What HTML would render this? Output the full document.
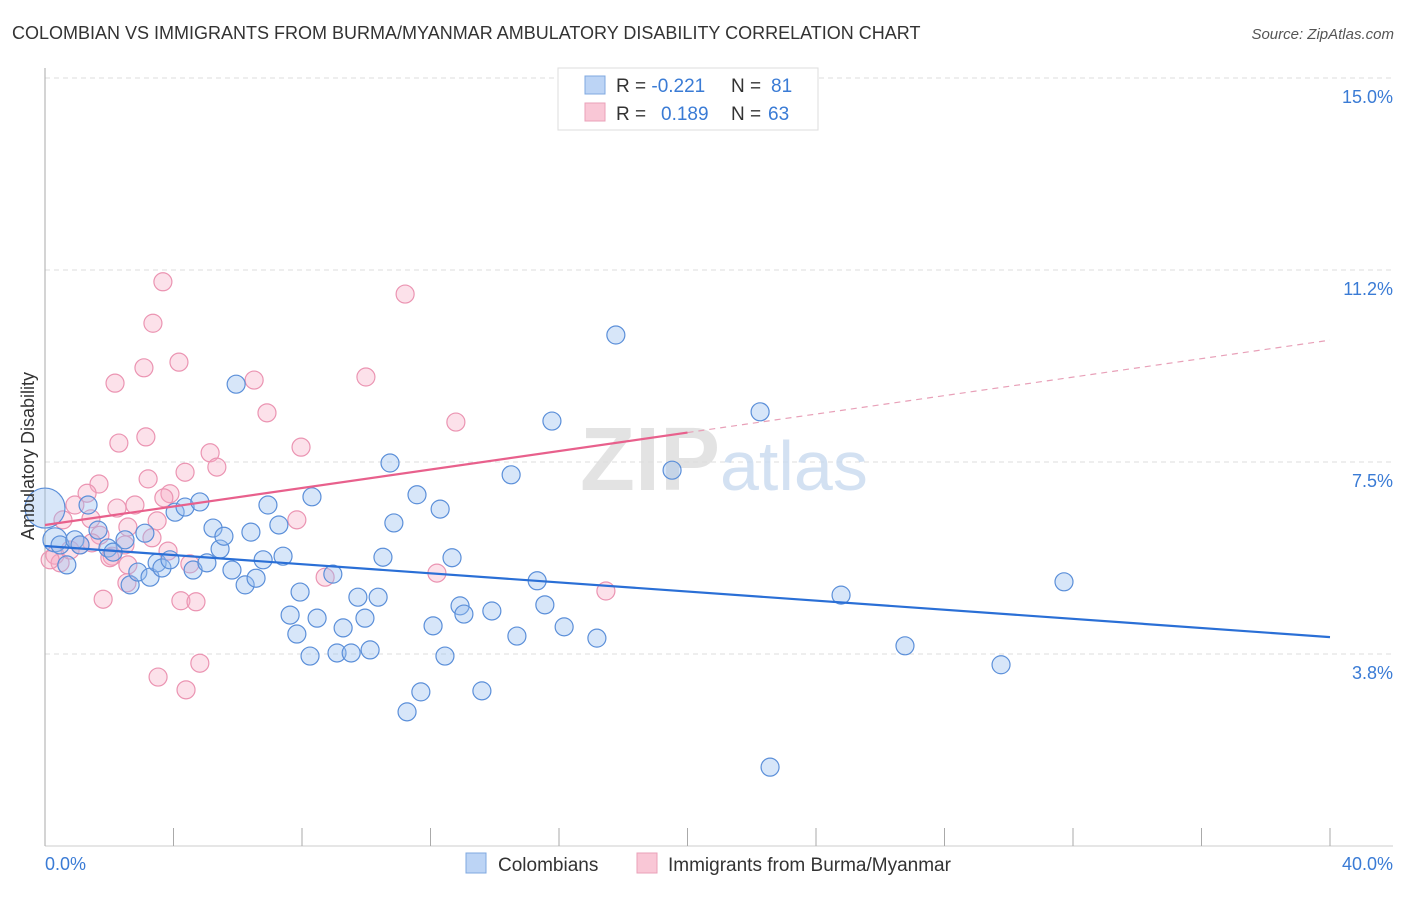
<!DOCTYPE html>
<html><head><meta charset="utf-8"><style>
body{margin:0;background:#fff;font-family:"Liberation Sans",sans-serif;}
svg text{font-family:"Liberation Sans",sans-serif;}
</style></head><body>
<svg width="1406" height="892" xmlns="http://www.w3.org/2000/svg">
<text x="12" y="39" font-size="18" fill="#333">COLOMBIAN VS IMMIGRANTS FROM BURMA/MYANMAR AMBULATORY DISABILITY CORRELATION CHART</text>
<text x="1394" y="39" font-size="15" fill="#555" text-anchor="end" font-style="italic">Source: ZipAtlas.com</text>
<g id="grid"></g>
<text x="720" y="490" font-size="90" fill="#ddd" text-anchor="end" font-family="Liberation Serif" font-weight="bold" opacity="0.8">ZIP</text>
<text x="720" y="490" font-size="70" fill="#c9daf0" opacity="0.8">atlas</text>
<g id="pts"></g>
<g id="lines"></g>
<text transform="translate(34,456) rotate(-90)" font-size="18" fill="#333" text-anchor="middle">Ambulatory Disability</text>
<text x="45" y="870" font-size="18" fill="#3a7bd5">0.0%</text>
<text x="1393" y="870" font-size="18" fill="#3a7bd5" text-anchor="end">40.0%</text>
<g>
<rect x="558" y="68" width="260" height="62" fill="#fff" stroke="#ddd"/>
<rect x="585" y="76" width="20" height="18" fill="#bcd4f5" stroke="#7fa8e0"/>
<rect x="585" y="103" width="20" height="18" fill="#f9c7d6" stroke="#eaa0b8"/>
<text x="616" y="92" font-size="19" fill="#333">R = <tspan fill="#3a7bd5">-0.221</tspan><tspan x="731">N = </tspan><tspan x="771" fill="#3a7bd5">81</tspan></text>
<text x="616" y="120" font-size="19" fill="#333">R = <tspan x="661" fill="#3a7bd5">0.189</tspan><tspan x="731">N = </tspan><tspan x="768" fill="#3a7bd5">63</tspan></text>
</g>
<g>
<rect x="466" y="853" width="20" height="20" fill="#bcd4f5" stroke="#7fa8e0"/>
<text x="498" y="871" font-size="19" fill="#333">Colombians</text>
<rect x="637" y="853" width="20" height="20" fill="#f9c7d6" stroke="#eaa0b8"/>
<text x="668" y="871" font-size="19" fill="#333">Immigrants from Burma/Myanmar</text>
</g>
</svg>
<script>
const yTicks=[15.0,11.25,7.5,3.75];
const yTickLabels=["15.0%","11.2%","7.5%","3.8%"];
const xTicks=[0,4,8,12,16,20,24,28,32,36,40];
const blueX=[0.0,0.68,0.31,1.34,1.65,1.96,2.12,2.49,2.65,2.89,3.27,3.11,3.49,3.64,3.89,4.05,4.36,4.61,4.82,5.04,5.23,5.45,5.57,5.82,5.95,6.23,6.41,6.57,6.79,6.94,7.28,7.41,7.63,7.84,7.94,8.25,8.31,8.47,8.96,9.09,9.28,9.53,9.74,9.96,10.12,10.37,10.52,10.74,10.86,11.27,11.58,11.70,12.08,12.30,12.45,12.67,12.92,13.04,13.60,13.91,14.51,14.69,15.32,15.56,15.78,16.16,17.18,17.77,19.52,22.26,22.57,24.78,26.77,29.76,31.72,0.47,0.93,1.09];
const blueY=[6.60,5.49,5.98,6.66,6.17,5.82,5.74,5.98,5.10,5.35,5.25,6.11,5.53,5.43,5.59,6.52,6.62,5.39,6.72,5.53,6.21,5.80,6.05,5.39,9.02,5.10,6.13,5.23,5.59,6.66,6.27,5.66,4.51,4.14,4.96,3.71,6.82,4.45,5.31,3.77,4.26,3.77,4.86,4.45,3.83,4.86,5.64,7.48,6.31,2.62,6.86,3.01,4.30,6.58,3.71,5.63,4.69,4.53,3.03,4.59,7.25,4.10,5.18,4.71,8.30,4.28,4.06,9.98,7.34,8.48,1.54,4.90,3.91,3.54,5.16,5.88,5.98,5.88];
const pinkX=[3.67,3.36,4.17,3.08,2.18,11.21,9.99,6.51,6.91,12.79,2.30,3.14,7.97,5.14,4.36,5.35,3.21,1.68,1.31,3.89,3.70,2.80,2.24,0.93,1.43,0.56,2.58,3.49,7.84,1.71,2.49,3.33,3.83,1.46,0.31,0.47,0.78,2.09,2.58,4.51,8.72,12.20,17.46,2.55,1.81,4.23,4.70,4.82,3.52,4.39,2.02,1.09,0.16];
const pinkY=[11.02,10.21,9.45,9.34,9.04,10.78,9.16,9.10,8.46,8.28,7.87,7.99,7.79,7.68,7.30,7.40,7.17,7.07,6.89,6.88,6.80,6.66,6.60,6.66,6.39,6.37,6.23,6.35,6.37,6.07,5.88,6.02,5.76,5.92,5.68,5.53,5.78,5.66,5.49,5.51,5.25,5.33,4.98,5.14,4.82,4.79,4.77,3.57,3.30,3.05,5.63,5.88,5.59];
const blueTrend=[5.86,4.08];
const pinkTrend=[6.27,9.88];
const X=v=>45+v*32.125, Y=v=>846-v*51.2;
const NS="http://www.w3.org/2000/svg";
function mk(t,a,p){const e=document.createElementNS(NS,t);for(const k in a)e.setAttribute(k,a[k]);p.appendChild(e);return e;}
const g=document.getElementById('grid');
yTicks.forEach((t,i)=>{
 const l=mk('line',{x1:45,x2:1393,y1:Y(t),y2:Y(t),stroke:'#ddd','stroke-dasharray':'5,4'},g);
 
 
 const tx=mk('text',{x:1393,y:Y(t)+25,'font-size':18,fill:'#3a7bd5','text-anchor':'end'},g);
 tx.textContent=yTickLabels[i];
 
 
});
const ax=mk('line',{x1:45,x2:45,y1:68,y2:846,stroke:'#aaa'},g);


const bx=mk('line',{x1:45,x2:1393,y1:846,y2:846,stroke:'#ccc'},g);


xTicks.forEach(t=>{
 const l=mk('line',{x1:X(t),x2:X(t),y1:828,y2:846,stroke:'#aaa'},g);
 
 
});
const p=document.getElementById('pts');
pinkX.forEach((x,i)=>{
 const c=mk('circle',{cx:X(x),cy:Y(pinkY[i]),r:9,fill:'rgba(246,170,196,0.35)',stroke:'#eb94b2','stroke-width':1.2},p);
 
 
});
blueX.forEach((x,i)=>{
 const c=mk('circle',{cx:X(x),cy:Y(blueY[i]),r:i===0?20:(i===2?12:9),fill:'rgba(150,188,238,0.38)',stroke:'#5b8fd9','stroke-width':1.2},p);
 
 
});
const L=document.getElementById('lines');
const b=mk('line',{x1:X(0),y1:Y(blueTrend[0]),x2:X(40),y2:Y(blueTrend[1]),stroke:'#2a6fd6','stroke-width':2.2},L);


const mid=pinkTrend[0]+(pinkTrend[1]-pinkTrend[0])*0.5;
const pl=mk('line',{x1:X(0),y1:Y(pinkTrend[0]),x2:X(20),y2:Y(mid),stroke:'#e8608c','stroke-width':2.2},L);


const pd=mk('line',{x1:X(20),y1:Y(mid),x2:X(40),y2:Y(pinkTrend[1]),stroke:'#e8a0b8','stroke-width':1.2,'stroke-dasharray':'6,5'},L);


</script>
</body></html>
